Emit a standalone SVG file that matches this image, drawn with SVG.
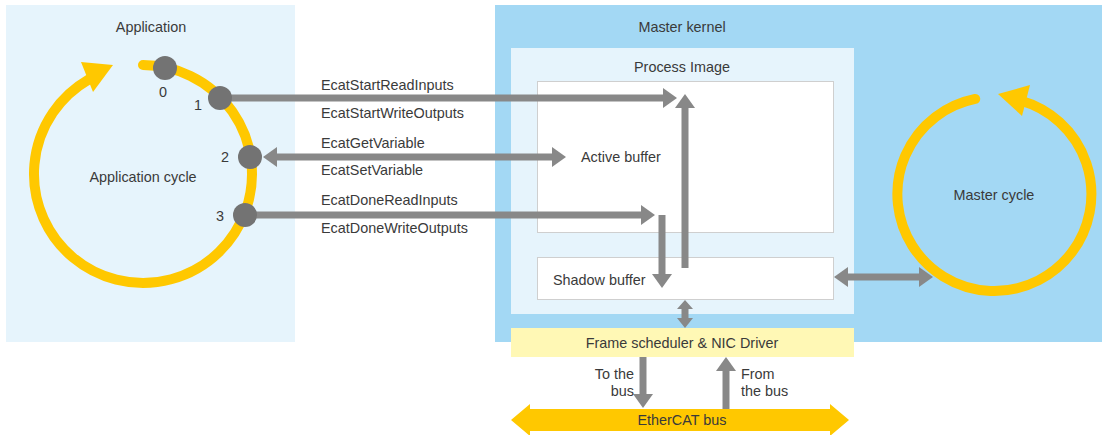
<svg xmlns="http://www.w3.org/2000/svg" width="1102" height="435" viewBox="0 0 1102 435">
<style>
text{font-family:"Liberation Sans",Arial,sans-serif;font-size:14.4px;fill:#3a3a3a;dominant-baseline:central}
.c{text-anchor:middle}
.e{text-anchor:end}
.buf{fill:#fff;stroke:#cfcfcf;stroke-width:1}
.conn{stroke:#888;stroke-width:7;fill:none}
.pt{fill:#737373}
.cyc{fill:none;stroke:#ffc800;stroke-width:10;stroke-linecap:round}
</style>
<defs>
<marker id="ah" viewBox="0 0 14 20" markerWidth="14" markerHeight="20" refX="1" refY="10" orient="auto-start-reverse" markerUnits="userSpaceOnUse">
<path d="M0,0 L14,10 L0,20 z" fill="#888"/>
</marker>
</defs>
<g id="application">
<rect x="6" y="5" width="289" height="337" fill="#e6f4fc"/>
<text class="c" x="151" y="27">Application</text>
</g>
<g id="master-kernel">
<rect x="495" y="5" width="607" height="337" fill="#a3d8f4"/>
<text class="c" x="682" y="27">Master kernel</text>
</g>
<g id="process-image">
<rect x="511" y="48" width="343" height="266" fill="#e6f4fc"/>
<text class="c" x="682" y="67">Process Image</text>
</g>
<g id="active-buffer">
<rect class="buf" x="537.5" y="81.5" width="296" height="151"/>
<text x="581" y="157">Active buffer</text>
</g>
<g id="shadow-buffer">
<rect class="buf" x="537.5" y="257.5" width="296" height="42"/>
<text x="553" y="280">Shadow buffer</text>
</g>
<g id="frame-scheduler">
<rect x="511" y="328" width="343" height="29" fill="#fff8b5"/>
<text class="c" x="682" y="343">Frame scheduler &amp; NIC Driver</text>
</g>
<g id="ethercat-bus">
<polygon points="511,420 530,404 530,409 830,409 830,404 849,420 830,436 830,431 530,431 530,436" fill="#ffc800"/>
<text class="c" x="682" y="420">EtherCAT bus</text>
</g>
<g id="application-cycle">
<path class="cyc" d="M143,65 A109,109 0 1 1 88.5,79.6"/>
<polygon points="81,62 113,65 93,92" fill="#ffc800"/>
<text class="c" x="143" y="177">Application cycle</text>
</g>
<g id="master-cycle">
<path class="cyc" d="M975.2,98.9 A97,97 0 1 0 1021.3,100.8"/>
<polygon points="998,94 1030,85 1022,116" fill="#ffc800"/>
<text class="c" x="994" y="195">Master cycle</text>
</g>
<g id="connectors">
<line class="conn" x1="220" y1="98" x2="664" y2="98" marker-end="url(#ah)"/>
<line class="conn" x1="276" y1="157" x2="553" y2="157" marker-start="url(#ah)" marker-end="url(#ah)"/>
<line class="conn" x1="245" y1="215" x2="642" y2="215" marker-end="url(#ah)"/>
<line class="conn" x1="685" y1="268" x2="685" y2="107" marker-end="url(#ah)"/>
<line class="conn" x1="662" y1="215" x2="662" y2="275" marker-end="url(#ah)"/>
<line class="conn" x1="847" y1="277" x2="920" y2="277" marker-start="url(#ah)" marker-end="url(#ah)"/>
<polygon points="685,300 693,309 688.5,309 688.5,318 693,318 685,328 677,318 681.5,318 681.5,309 677,309" fill="#888"/>
<line class="conn" x1="643" y1="357" x2="643" y2="395" marker-end="url(#ah)"/>
<line class="conn" x1="726" y1="409" x2="726" y2="370" marker-end="url(#ah)"/>
<text x="321" y="85">EcatStartReadInputs</text>
<text x="321" y="113">EcatStartWriteOutputs</text>
<text x="321" y="143">EcatGetVariable</text>
<text x="321" y="170">EcatSetVariable</text>
<text x="321" y="200">EcatDoneReadInputs</text>
<text x="321" y="228">EcatDoneWriteOutputs</text>
<text class="e" x="634" y="374">To the</text>
<text class="e" x="634" y="391">bus</text>
<text x="741" y="374">From</text>
<text x="741" y="391">the bus</text>
</g>
<g id="points">
<circle class="pt" cx="165" cy="68" r="12"/>
<circle class="pt" cx="220" cy="98" r="12"/>
<circle class="pt" cx="250" cy="157" r="12"/>
<circle class="pt" cx="245" cy="215" r="12"/>
<text class="c" x="163" y="92">0</text>
<text class="c" x="198" y="105">1</text>
<text class="c" x="225" y="157">2</text>
<text class="c" x="220" y="216">3</text>
</g>
</svg>
